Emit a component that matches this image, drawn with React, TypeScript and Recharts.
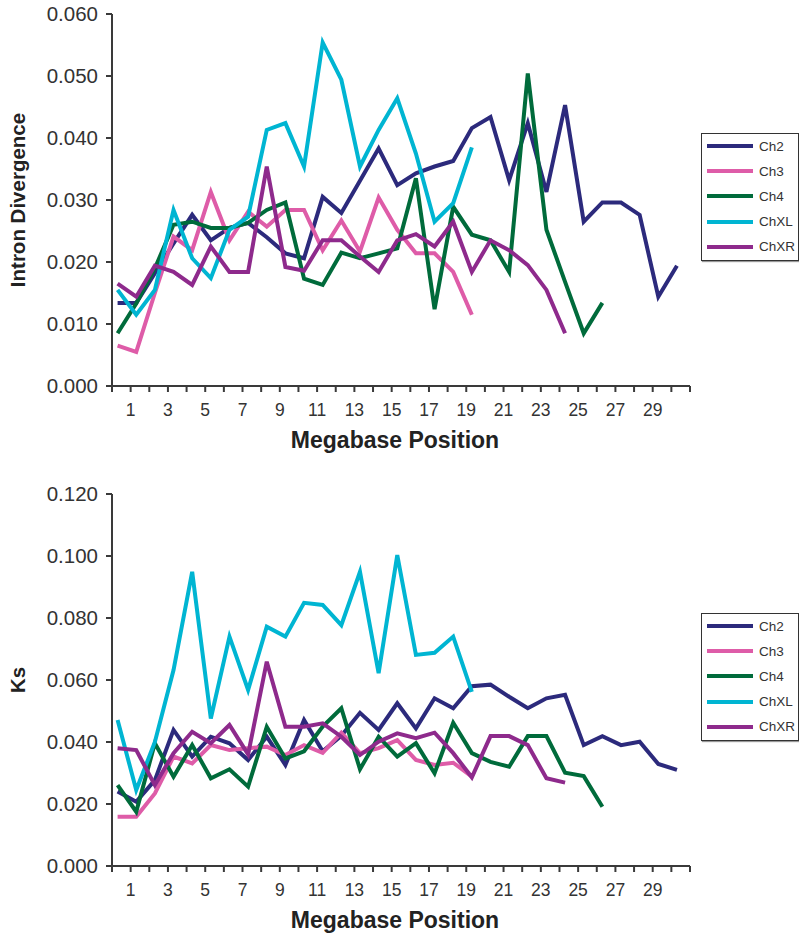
import React from 'react';
import { LineChart, Line, XAxis, YAxis } from 'recharts';

// megabase bin positions (one point per bin)
const positions = [
  0.3, 1.3, 2.3, 3.3, 4.3, 5.3, 6.3, 7.3, 8.3, 9.3, 10.3, 11.3, 12.3, 13.3, 14.3, 15.3,
  16.3, 17.3, 18.3, 19.3, 20.3, 21.3, 22.3, 23.3, 24.3, 25.3, 26.3, 27.3, 28.3, 29.3, 30.3,
];

// Intron divergence
const divCh2 = [0.0134, 0.0134, 0.0182, 0.023, 0.0276, 0.0235, 0.0255, 0.0263, 0.024, 0.0214, 0.0206, 0.0305, 0.0279, 0.0331, 0.0383, 0.0324, 0.0343, 0.0354, 0.0363, 0.0416, 0.0434, 0.0332, 0.0424, 0.0313, 0.0453, 0.0265, 0.0296, 0.0296, 0.0276, 0.0144, 0.0194];
const divCh3 = [0.0065, 0.0055, 0.015, 0.0241, 0.0219, 0.0313, 0.0235, 0.0281, 0.0257, 0.0284, 0.0284, 0.0219, 0.0267, 0.0217, 0.0304, 0.0252, 0.0214, 0.0214, 0.0184, 0.0115];
const divCh4 = [0.0085, 0.0133, 0.019, 0.026, 0.0265, 0.0255, 0.0255, 0.0263, 0.0284, 0.0296, 0.0173, 0.0163, 0.0215, 0.0206, 0.0214, 0.0222, 0.0335, 0.0124, 0.0289, 0.0244, 0.0235, 0.0184, 0.0504, 0.0252, 0.0168, 0.0085, 0.0134];
const divChXL = [0.0155, 0.0115, 0.0155, 0.0284, 0.0206, 0.0174, 0.0252, 0.0273, 0.0413, 0.0424, 0.0354, 0.0554, 0.0494, 0.0354, 0.0413, 0.0464, 0.0375, 0.0265, 0.0295, 0.0385];
const divChXR = [0.0165, 0.0144, 0.0194, 0.0184, 0.0163, 0.0225, 0.0184, 0.0184, 0.0354, 0.0192, 0.0186, 0.0235, 0.0235, 0.0209, 0.0184, 0.0235, 0.0245, 0.0225, 0.0265, 0.0184, 0.0235, 0.0219, 0.0195, 0.0155, 0.0085];

// Ks
const ksCh2 = [0.024, 0.0207, 0.0277, 0.0439, 0.0353, 0.0417, 0.0396, 0.0342, 0.0417, 0.0326, 0.0471, 0.037, 0.042, 0.0494, 0.0439, 0.0525, 0.0444, 0.0541, 0.0509, 0.058, 0.0585, 0.0546, 0.0509, 0.0541, 0.0552, 0.039, 0.0419, 0.039, 0.0401, 0.0329, 0.031];
const ksCh3 = [0.0159, 0.0159, 0.0234, 0.0353, 0.0331, 0.039, 0.0374, 0.038, 0.0385, 0.0358, 0.039, 0.0365, 0.043, 0.0364, 0.038, 0.0406, 0.0342, 0.0326, 0.0333, 0.0288];
const ksCh4 = [0.0261, 0.0175, 0.0396, 0.0288, 0.039, 0.0283, 0.0312, 0.0256, 0.0449, 0.0347, 0.037, 0.045, 0.0509, 0.0312, 0.0417, 0.0353, 0.0396, 0.0299, 0.0462, 0.0364, 0.0336, 0.032, 0.0419, 0.0419, 0.0301, 0.029, 0.0191];
const ksChXL = [0.0471, 0.0245, 0.04, 0.0632, 0.0949, 0.0476, 0.074, 0.0568, 0.0772, 0.074, 0.0849, 0.0842, 0.0777, 0.0949, 0.0622, 0.1003, 0.0681, 0.0688, 0.074, 0.0562];
const ksChXR = [0.038, 0.0374, 0.0261, 0.0364, 0.0433, 0.0396, 0.0455, 0.036, 0.0659, 0.0449, 0.0449, 0.046, 0.0417, 0.0358, 0.0401, 0.0428, 0.0412, 0.043, 0.0364, 0.0286, 0.0419, 0.0419, 0.039, 0.0283, 0.0269];

const divTicks = [0, 0.01, 0.02, 0.03, 0.04, 0.05, 0.06];
const ksTicks = [0, 0.02, 0.04, 0.06, 0.08, 0.1, 0.12];
const xTicks = [0, 1, 2, 3, 4, 5, 6, 7, 8, 9, 10, 11, 12, 13, 14, 15, 16, 17, 18, 19, 20, 21, 22, 23, 24, 25, 26, 27, 28, 29, 30, 31];
const xLabels = [1, 3, 5, 7, 9, 11, 13, 15, 17, 19, 21, 23, 25, 27, 29];

const seriesNames = ['Ch2', 'Ch3', 'Ch4', 'ChXL', 'ChXR'];
const seriesKeys = ['ch2', 'ch3', 'ch4', 'chxl', 'chxr'];
const colors = ['#2C2A7C', '#DE5CA8', '#006B3B', '#00B5D2', '#8E2A8C'];

const font = 'Arial, "Liberation Sans", sans-serif';
const axisColor = '#3a3a3a';

function buildRows(series: number[][]) {
  return positions.map((pos, i) => {
    const row: Record<string, number | undefined> = { pos };
    seriesKeys.forEach((k, s) => {
      row[k] = series[s][i];
    });
    return row;
  });
}

const divData = buildRows([divCh2, divCh3, divCh4, divChXL, divChXR]);
const ksData = buildRows([ksCh2, ksCh3, ksCh4, ksChXL, ksChXR]);

function LegendBox() {
  return (
    <div
      style={{
        position: 'absolute',
        left: 701,
        top: 133,
        width: 96,
        height: 126,
        border: '1.5px solid #333',
        background: '#fff',
        boxShadow: '1px 1px 1px #999',
      }}
    >
      {seriesNames.map((name, i) => (
        <div
          key={name}
          style={{ position: 'absolute', left: 5, top: 6 + i * 25.2, height: 12, display: 'flex', alignItems: 'center' }}
        >
          <div style={{ width: 46, height: 4, background: colors[i] }} />
          <span style={{ marginLeft: 6, fontFamily: font, fontSize: 13.5, color: '#333' }}>{name}</span>
        </div>
      ))}
    </div>
  );
}

function Panel({ data, ticks, title, top }: { data: any[]; ticks: number[]; title: string; top: number }) {
  const max = ticks[ticks.length - 1];
  return (
    <div style={{ position: 'absolute', left: 0, top, width: 799, height: 470 }}>
      <LineChart width={799} height={470} data={data} margin={{ top: 14, right: 109, left: 0, bottom: 0 }}>
        <XAxis
          dataKey="pos"
          type="number"
          domain={[0, 31]}
          ticks={xTicks}
          interval={0}
          tickFormatter={(v: number) => (xLabels.includes(v) ? String(v) : '')}
          tickSize={6}
          tickMargin={12}
          height={84}
          stroke={axisColor}
          strokeWidth={2}
          tick={{ fill: '#333', fontSize: 17.5, fontFamily: font }}
        />
        <XAxis xAxisId="top" orientation="top" type="number" domain={[0, 31]} height={0} tick={false} tickLine={false} stroke={axisColor} strokeWidth={2} />
        <YAxis
          type="number"
          domain={[0, max]}
          ticks={ticks}
          interval={0}
          tickFormatter={(v: number) => v.toFixed(3)}
          width={112}
          tickSize={6}
          tickMargin={8}
          stroke={axisColor}
          strokeWidth={2}
          tick={{ fill: '#333', fontSize: 20.5, fontFamily: font }}
        />
        <YAxis yAxisId="right" orientation="right" width={0} tick={false} tickLine={false} stroke="#666" strokeWidth={2} />
        {seriesKeys.map((k, i) => (
          <Line
            key={k}
            dataKey={k}
            type="linear"
            stroke={colors[i]}
            strokeWidth={4}
            dot={false}
            activeDot={false}
            isAnimationActive={false}
          />
        ))}
      </LineChart>
      <LegendBox />
      <div
        style={{
          position: 'absolute',
          left: 18,
          top: 200,
          transform: 'translate(-50%, -50%) rotate(-90deg)',
          whiteSpace: 'nowrap',
          fontFamily: font,
          fontWeight: 'bold',
          fontSize: 20.5,
          color: '#222',
        }}
      >
        {title}
      </div>
      <div
        style={{
          position: 'absolute',
          left: 395,
          top: 440,
          transform: 'translate(-50%, -50%)',
          whiteSpace: 'nowrap',
          fontFamily: font,
          fontWeight: 'bold',
          fontSize: 23,
          color: '#222',
        }}
      >
        Megabase Position
      </div>
    </div>
  );
}

export default function App() {
  return (
    <div style={{ position: 'absolute', left: 0, top: 0, width: 799, height: 934, background: '#fff' }}>
      <Panel data={divData} ticks={divTicks} title="Intron Divergence" top={0} />
      <Panel data={ksData} ticks={ksTicks} title="Ks" top={480} />
    </div>
  );
}
